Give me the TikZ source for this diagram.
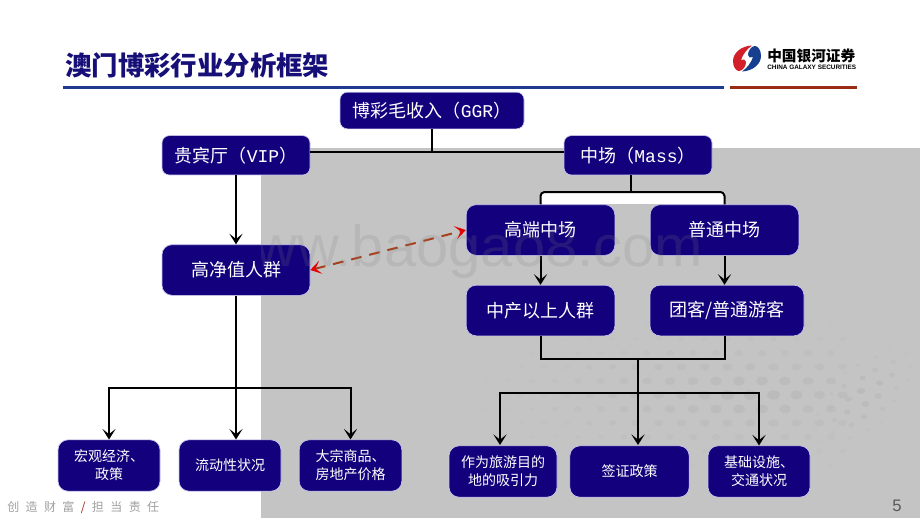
\documentclass[tikz,border=0pt]{standalone}
\usepackage{fontspec}
\setmainfont{Liberation Sans}
\newfontfamily\cjk{Noto Sans CJK SC}
\newfontfamily\latn{Liberation Mono}
\usetikzlibrary{arrows.meta}
\definecolor{boxblue}{HTML}{13007C}
\definecolor{boxrim}{HTML}{C9C6EE}
\definecolor{titleblue}{HTML}{170F78}
\definecolor{ruleblue}{HTML}{1F3A8F}
\definecolor{rulered}{HTML}{9A2A12}
\definecolor{logored}{HTML}{D2202A}
\definecolor{logoblue}{HTML}{16408F}
\definecolor{slidegrey}{HTML}{C4C4C4}
\definecolor{dotgrey}{HTML}{B8B8B8}
\definecolor{dashbrown}{HTML}{A8401C}
\definecolor{footgrey}{HTML}{A0A0A0}
\def\logolobe{(752,45.5) .. controls (741,46) and (733,53) .. (733,61)
    .. controls (733,67) and (736,71) .. (739,71)
    .. controls (743,71) and (746,66) .. (746,62)
    .. controls (746,59.5) and (743,58.5) .. (741,60)
    .. controls (743,54) and (747,49) .. (752,45.5) -- cycle}
\tikzset{
  framebox/.style={draw=boxrim,line width=.5pt,fill=boxblue,text=white,rounded corners=7.5pt,
    inner sep=0pt,align=center},
  bigbox/.style={framebox,font=\cjk\fontsize{13.5}{16}\selectfont},
  headbox/.style={bigbox,rounded corners=5.5pt},
  smallbox/.style={framebox,minimum height=38.5pt,font=\cjk\fontsize{10.5}{13.5}\selectfont},
  link/.style={black,line width=1.5pt},
  arrowlink/.style={link,-{Stealth[length=8pt,width=10pt,inset=4pt]}},
  duallink/.style={dashbrown,line width=1.5pt,dash pattern=on 8pt off 6pt,
    {Stealth[length=8pt,width=10pt,inset=4pt,red!90!black]}-{Stealth[length=8pt,width=10pt,inset=4pt,red!90!black]}}
}
\begin{document}
\begin{tikzpicture}[x=.75pt,y=-.75pt]
  \useasboundingbox (0,0) rectangle (920,518);
  \fill[white] (0,0) rectangle (920,518);
  \fill[slidegrey] (261,148) rectangle (920,518);
  % halftone dots on the grey
  \foreach \row in {0,...,11}{
    \foreach \col in {0,...,17}{
      \pgfmathsetmacro\dotx{440+23*\col+11.5*mod(\row,2)}
      \pgfmathsetmacro\doty{325+14*\row}
      \pgfmathsetmacro\dotr{max(0,1-sqrt(((\dotx-745)/300)^2+((\doty-395)/85)^2))}
      \fill[dotgrey,opacity=.75*\dotr] (\dotx,\doty) ellipse ({1.5+5.5*\dotr} and {1+4*\dotr});
    }
  }
  \foreach \row in {0,...,13}{
    \foreach \col in {0,...,9}{
      \pgfmathsetmacro\dotx{805+17*\col-1.5*\row+3*mod(\row,2)}
      \pgfmathsetmacro\doty{475-13*\row+5*\col}
      \pgfmathsetmacro\dotr{max(0,1-sqrt((((\dotx-865)-(\doty-395))/110)^2+(((\dotx-865)+(\doty-395))/60)^2))}
      \fill[dotgrey,opacity=.9*\dotr] (\dotx,\doty) ellipse ({1+3.5*\dotr} and {.8+2.6*\dotr});
    }
  }
  \fill[white] (541,192) rectangle (725,204);
  % title, rules, logo
  \node[anchor=west,inner sep=0pt,text=titleblue,font=\cjk\bfseries\fontsize{19.8}{24}\selectfont] (title) at (65,65) {澳门博彩行业分析框架};
  \coordinate (blueleft) at (63,87.5);
  \coordinate (blueright) at (724,87.5);
  \coordinate (redleft) at (730,87.5);
  \coordinate (redright) at (857,87.5);
  \draw[ruleblue,line width=2.2pt] (blueleft) -- (blueright);
  \draw[rulered,line width=2.2pt] (redleft) -- (redright);
  \fill[logored] \logolobe;
  \fill[logoblue,rotate around={180:(747,58.5)}] \logolobe;
  \node[anchor=west,inner sep=0pt,font=\cjk\bfseries\fontsize{11}{12}\selectfont] (logoname) at (767,55.5) {中国银河证券};
  \node[anchor=west,inner sep=0pt,font=\bfseries\fontsize{4.8}{6}\selectfont] (logosub) at (767,67) {CHINA GALAXY SECURITIES};
  % footer
  \node[anchor=west,inner sep=0pt,text=footgrey,font=\cjk\fontsize{9}{11}\selectfont] (motto) at (7,507) {创\hspace{4.8pt}造\hspace{4.8pt}财\hspace{4.8pt}富\hspace{4.8pt}\textcolor{rulered}{/}\hspace{4.8pt}担\hspace{4.8pt}当\hspace{4.8pt}责\hspace{4.8pt}任};
  \node[text=black!65,inner sep=0pt,font=\fontsize{12.5}{14}\selectfont] (pagenum) at (897,505.5) {5};
  % the boxes
  \draw
    (432,110.5) node[headbox,minimum width=138pt,minimum height=27.5pt] (ggr){博彩毛收入（{\latn GGR}）}
    (236,155.3) node[headbox,minimum width=111pt,minimum height=29.5pt] (vip){贵宾厅（{\latn VIP}）}
    (638,155.3) node[headbox,minimum width=111pt,minimum height=29.5pt] (mass){中场（{\latn Mass}）}
    (236,270) node[bigbox,minimum width=111pt,minimum height=38pt] (wealthy){高净值人群}
    (540.5,230) node[bigbox,minimum width=111.5pt,minimum height=38pt] (highend){高端中场}
    (724.5,230) node[bigbox,minimum width=111.5pt,minimum height=38pt] (general){普通中场}
    (540.5,310.5) node[bigbox,minimum width=111.5pt,minimum height=38pt] (middle){中产以上人群}
    (727,310.5) node[bigbox,minimum width=115.5pt,minimum height=38pt] (tourist){团客/普通游客}
    (109,465.5) node[smallbox,minimum width=76.5pt] (macro){宏观经济、\\政策}
    (230,465.5) node[smallbox,minimum width=76.5pt] (liquid){流动性状况}
    (350.5,465.5) node[smallbox,minimum width=77pt] (estate){大宗商品、\\房地产价格}
    (503,471.5) node[smallbox,minimum width=81pt] (attract){作为旅游目的\\地的吸引力}
    (629.5,471.5) node[smallbox,minimum width=89.5pt] (visa){签证政策}
    (759,471.5) node[smallbox,minimum width=76.5pt] (infra){基础设施、\\交通状况};
  \coordinate (vipjoin) at (310,152);
  \coordinate (massjoin) at (564,152);
  \coordinate (brace) at (631,192);
  \coordinate (massout) at (631,175);
  \coordinate (lowjoin) at (638,359);
  \coordinate (rightbar) at (638,393);
  \coordinate (attractin) at (500,445);
  \coordinate (visain) at (638,445);
  \coordinate (leftbar) at (236,388);
  \begin{scope}[link]
    \draw (vipjoin) to (massjoin);
    \draw (ggr.south) to (ggr.south |- vipjoin);
    \draw (massout) to (brace);
    \draw[rounded corners=3pt] (highend.north) |- (brace) -| (general.north);
    \draw (middle.south) |- (lowjoin) -| (tourist.south -| general.south);
    \draw (lowjoin) to (rightbar);
  \end{scope}
  \begin{scope}[arrowlink]
    \draw (vip.south) to (wealthy.north);
    \draw (highend.south) to (middle.north);
    \draw (general.south) to (general.south |- tourist.north);
    \draw (wealthy.south) to (wealthy.south |- liquid.north);
    \draw (leftbar) -| (macro.north);
    \draw (leftbar) -| (estate.north);
    \draw (rightbar) to (visain);
    \draw (rightbar) -| (attractin);
    \draw (rightbar) -| (infra.north);
  \end{scope}
  \draw[duallink] (wealthy.east) to (highend.west);
  % watermark
  \begin{scope}
    \clip (261,148) rectangle (920,518);
    \node[anchor=base west,inner sep=0pt,text=gray,opacity=.18,font=\fontsize{43.5}{50}\selectfont] (mark) at (213,266) {www.baogao8.com};
  \end{scope}
\end{tikzpicture}
\end{document}
